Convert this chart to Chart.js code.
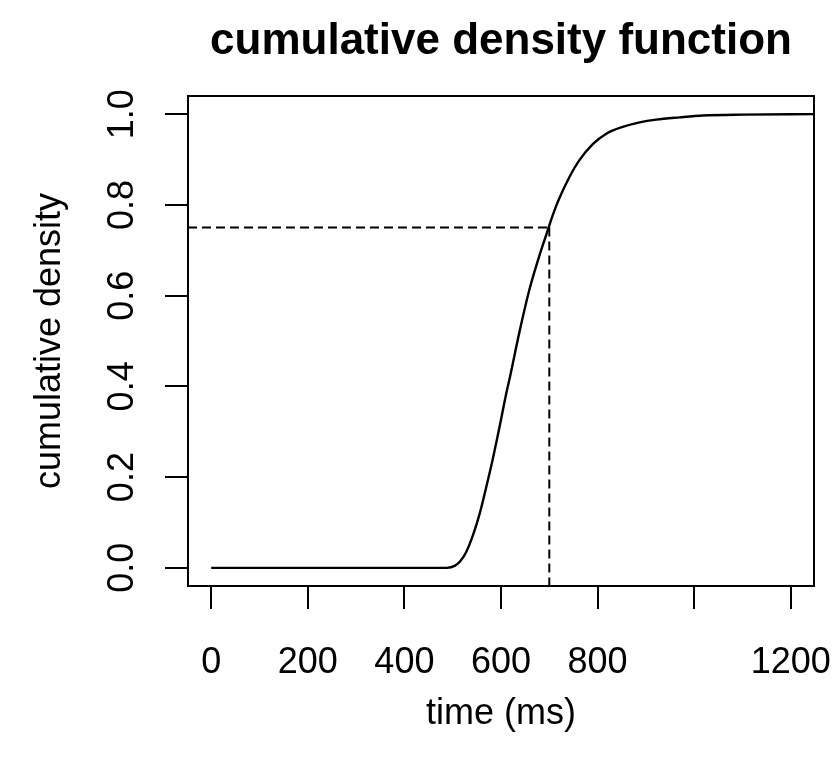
<!DOCTYPE html>
<html>
<head>
<meta charset="utf-8">
<script src="https://cdn.jsdelivr.net/npm/chart.js@4"></script>
<style>
html,body{margin:0;padding:0;background:#ffffff;}
canvas{display:block;}
</style>
</head>
<body>
<canvas id="c" width="836" height="767"></canvas>
<script>
// ---- data ----
const timeMs = [0, 488, 505, 516, 528, 542, 556, 569, 583, 597, 611, 618, 638, 659, 680, 694, 707, 721, 742, 762, 790, 818, 852, 887, 921, 970, 1018, 1100, 1250];
const cumDensity = [0, 0, 0.005, 0.015, 0.035, 0.072, 0.12, 0.176, 0.24, 0.311, 0.385, 0.418, 0.519, 0.614, 0.69, 0.735, 0.777, 0.815, 0.862, 0.898, 0.934, 0.957, 0.972, 0.982, 0.988, 0.993, 0.997, 0.999, 1.0];
const xTickValues = [0, 200, 400, 600, 800, 1000, 1200];
const xTickLabels = ['0', '200', '400', '600', '800', '', '1200'];
const yTickValues = [0, 0.2, 0.4, 0.6, 0.8, 1.0];
const yTickLabels = ['0.0', '0.2', '0.4', '0.6', '0.8', '1.0'];
const quantileTime = [700];
const quantileLevel = [0.75];
const titleText = 'cumulative density function';
const xTitleText = 'time (ms)';
const yTitleText = 'cumulative density';

const FONT = '"Liberation Sans", Arial, Helvetica, sans-serif';
const X_MIN = -48, X_MAX = 1248, Y_MIN = -0.04, Y_MAX = 1.04;

const rBasePlot = {
  id: 'rBasePlot',
  afterDraw(chart) {
    const ctx = chart.ctx;
    const a = chart.chartArea;
    const xs = chart.scales.x, ys = chart.scales.y;
    ctx.save();
    ctx.strokeStyle = '#000';
    ctx.fillStyle = '#000';
    ctx.lineWidth = 2;
    ctx.setLineDash([]);
    // box
    ctx.strokeRect(a.left, a.top, a.right - a.left, a.bottom - a.top);
    // x ticks
    ctx.beginPath();
    xTickValues.forEach(v => {
      const px = Math.round(xs.getPixelForValue(v));
      ctx.moveTo(px, a.bottom);
      ctx.lineTo(px, a.bottom + 23);
    });
    // y ticks
    yTickValues.forEach(v => {
      const py = Math.round(ys.getPixelForValue(v));
      ctx.moveTo(a.left, py);
      ctx.lineTo(a.left - 23, py);
    });
    ctx.stroke();
    // x tick labels
    ctx.font = '36px ' + FONT;
    ctx.textAlign = 'center';
    ctx.textBaseline = 'alphabetic';
    xTickValues.forEach((v, i) => {
      if (xTickLabels[i]) ctx.fillText(xTickLabels[i], xs.getPixelForValue(v), 673);
    });
    // y tick labels (rotated)
    yTickValues.forEach((v, i) => {
      ctx.save();
      ctx.translate(133, ys.getPixelForValue(v));
      ctx.rotate(-Math.PI / 2);
      ctx.fillText(yTickLabels[i], 0, 0);
      ctx.restore();
    });
    const cx = (a.left + a.right) / 2, cy = (a.top + a.bottom) / 2;
    // axis titles
    ctx.fillText(xTitleText, cx, 724);
    ctx.save();
    ctx.translate(60, cy);
    ctx.rotate(-Math.PI / 2);
    ctx.fillText(yTitleText, 0, 0);
    ctx.restore();
    // main title
    ctx.font = 'bold 44px ' + FONT;
    ctx.fillText(titleText, cx, 54);
    ctx.restore();
  }
};

new Chart(document.getElementById('c'), {
  type: 'scatter',
  data: {
    datasets: [
      {
        data: timeMs.map((t, i) => ({ x: t, y: cumDensity[i] })),
        showLine: true,
        borderColor: '#000',
        borderWidth: 2.4,
        pointRadius: 0,
        cubicInterpolationMode: 'monotone',
        fill: false
      },
      {
        data: [{ x: X_MIN, y: quantileLevel[0] }, { x: quantileTime[0], y: quantileLevel[0] }],
        showLine: true,
        borderColor: '#000',
        borderWidth: 2,
        borderDash: [9, 5],
        pointRadius: 0,
        fill: false
      },
      {
        data: [{ x: quantileTime[0], y: quantileLevel[0] }, { x: quantileTime[0], y: Y_MIN }],
        showLine: true,
        borderColor: '#000',
        borderWidth: 2,
        borderDash: [9, 5],
        pointRadius: 0,
        fill: false
      }
    ]
  },
  options: {
    responsive: false,
    animation: false,
    devicePixelRatio: 1,
    events: [],
    layout: { padding: { left: 188, top: 96, right: 22, bottom: 181 } },
    plugins: {
      legend: { display: false },
      tooltip: { enabled: false },
      title: { display: false }
    },
    scales: {
      x: { type: 'linear', min: X_MIN, max: X_MAX, display: false },
      y: { type: 'linear', min: Y_MIN, max: Y_MAX, display: false }
    }
  },
  plugins: [rBasePlot]
});
</script>
</body>
</html>
